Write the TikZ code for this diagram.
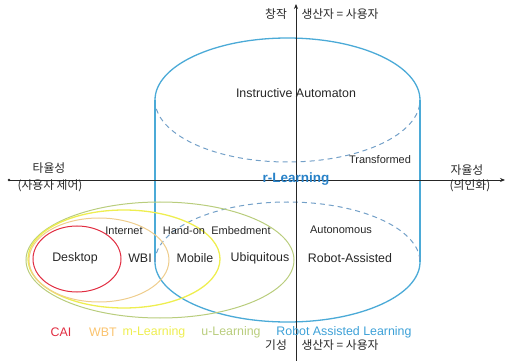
\documentclass[tikz,border=0pt]{standalone}
\usepackage{fontspec}
\setmainfont{Liberation Sans}
\newfontfamily\krfont{Noto Sans CJK KR}
\usetikzlibrary{arrows.meta}

\definecolor{cylblue}{RGB}{75,170,215}
\definecolor{dashblue}{RGB}{115,160,200}
\definecolor{caired}{RGB}{225,45,65}
\definecolor{wbtorange}{RGB}{250,195,110}
\definecolor{wbtline}{RGB}{238,205,140}
\definecolor{myellow}{RGB}{238,238,80}
\definecolor{ugreen}{RGB}{185,205,125}
\definecolor{rblue}{RGB}{40,130,200}
\definecolor{legblue}{RGB}{60,160,215}

\tikzset{
  axisline/.style={draw=black!85, line width=0.8pt},
  cyl/.style={draw=cylblue, line width=1.3pt},
  cyldash/.style={draw=dashblue, line width=1pt, dash pattern=on 5pt off 4pt},
  lab/.style={font=\fontsize{12.4}{14}\selectfont, text=black!85, inner sep=0pt},
  smalllab/.style={font=\fontsize{11}{13}\selectfont, text=black!85, inner sep=0pt},
  krlab/.style={font=\krfont\fontsize{11.8}{13}\selectfont, text=black!85, inner sep=0pt},
  legend/.style={font=\fontsize{12.4}{14}\selectfont, inner sep=0pt},
}

\begin{document}
\begin{tikzpicture}[x=1pt,y=-1pt]
\useasboundingbox (0,0) rectangle (507,361);

% cylinder: top ellipse, straight sides, bottom ellipse
\draw[cyl] (155,100) arc[start angle=180, end angle=360, x radius=132.5, y radius=62];
\draw[cyldash] (155,100) arc[start angle=180, end angle=0, x radius=132.5, y radius=62];
\draw[cyl] (155,100) -- (155,262);
\draw[cyl] (420,100) -- (420,262);
\draw[cyl] (155,262) arc[start angle=180, end angle=0, x radius=132.5, y radius=60];
\draw[cyldash] (155,262) arc[start angle=180, end angle=360, x radius=132.5, y radius=60];

% nested learning ellipses
\draw[draw=ugreen, line width=1pt] (160,260) ellipse[x radius=134, y radius=58];
\draw[draw=myellow, line width=1.3pt] (124,259) ellipse[x radius=96, y radius=49];
\draw[draw=wbtline, line width=1pt] (99,260) ellipse[x radius=70, y radius=42];
\draw[draw=caired, line width=1pt] (77,259) ellipse[x radius=44, y radius=33];

% axes
\coordinate (xl) at (9,180);
\coordinate (xr) at (505,180);
\coordinate (yb) at (296,361);
\coordinate (yt) at (296,4);
\fill[black!85] (xl) circle (1.3pt);
\draw[axisline, -{Stealth[length=5pt,width=4pt]}] (xl) -- (xr);
\draw[axisline, -{Stealth[length=5pt,width=4pt]}] (yb) -- (yt);

% axis labels
\node[krlab] (topL) at (276,14) {창작};
\node[krlab] (topR) at (340,14) {생산자 = 사용자};
\node[krlab] (botL) at (276,345) {기성};
\node[krlab] (botR) at (340,345) {생산자 = 사용자};
\node[krlab] (leftA) at (49,168) {타율성};
\node[krlab] (leftB) at (50,186) {(사용자 제어)};
\node[krlab] (rightA) at (467,170) {자율성};
\node[krlab] (rightB) at (470,186) {(의인화)};

% cylinder labels
\node[lab] (instr) at (296,93) {Instructive Automaton};
\node[smalllab] (transf) at (380,160) {Transformed};
\node[font=\bfseries\fontsize{13.5}{15}\selectfont, text=rblue, inner sep=0pt] (rlearn) at (296,179) {r-Learning};

% inner labels
\node[smalllab] (internet) at (124,231) {Internet};
\node[smalllab] (handon) at (184,231) {Hand-on};
\node[smalllab] (embed) at (241,231) {Embedment};
\node[smalllab] (auto) at (341,230) {Autonomous};
\node[lab] (desktop) at (75,258) {Desktop};
\node[lab] (wbi) at (140,258) {WBI};
\node[lab] (mobile) at (195,258) {Mobile};
\node[lab] (ubiq) at (260,258) {Ubiquitous};
\node[lab] (robot) at (350,258) {Robot-Assisted};

% legend
\node[legend, text=caired] (lcai) at (61,332) {CAI};
\node[legend, text=wbtorange] (lwbt) at (103,332) {WBT};
\node[legend, text=myellow] (lm) at (154,332) {m-Learning};
\node[legend, text=ugreen] (lu) at (231,332) {u-Learning};
\node[legend, text=legblue] (lr) at (344,332) {Robot Assisted Learning};
\end{tikzpicture}
\end{document}
